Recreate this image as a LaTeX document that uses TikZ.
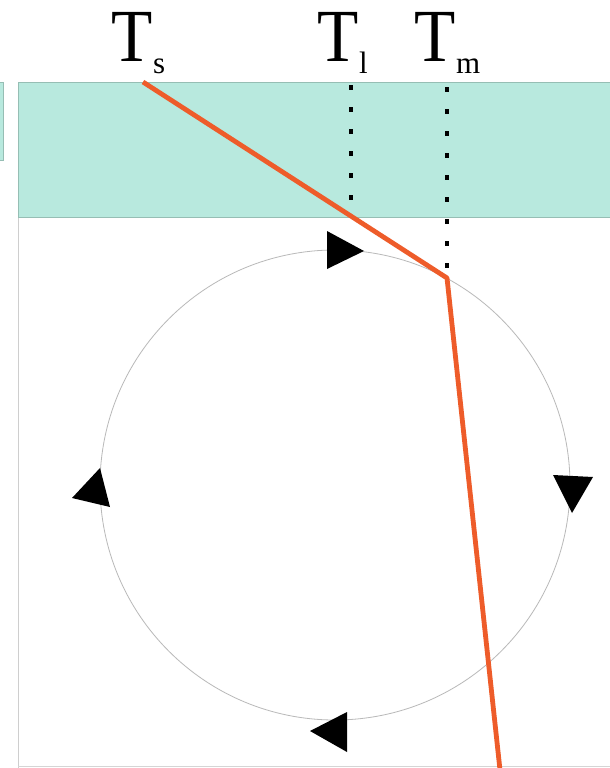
\documentclass[tikz,border=0pt]{standalone}
\usepackage{fontspec}
\setmainfont{Liberation Serif}
\definecolor{teal1}{RGB}{184,233,222}
\definecolor{tealedge}{RGB}{150,190,180}
\definecolor{orng}{RGB}{238,92,42}
\definecolor{circgray}{RGB}{185,185,185}
\newcommand{\Tlabel}[1]{\scalebox{0.9}[1]{\fontsize{75}{75}\selectfont T}\kern1pt\raisebox{-12pt}{\fontsize{31}{31}\selectfont #1}}
\begin{document}
\begin{tikzpicture}[x=1pt,y=-1pt,
  lbl/.style={anchor=base west,inner sep=0pt,outer sep=0pt},
  dotline/.style={line width=4.5pt,dash pattern=on 5pt off 17pt},
  arrowtri/.style={fill=black},
  redline/.style={orng,line width=4.8pt,line join=round}]
\useasboundingbox (0,0) rectangle (610,768);
\fill[white] (0,0) rectangle (610,768);
% left sliver panel
\fill[teal1,draw=tealedge,line width=0.8pt] (-5,82) rectangle (3,160);
% panel frame
\draw[circgray!70,line width=0.8pt] (18,82) -- (18,768);
\draw[circgray!60,line width=0.8pt] (18,766) -- (610,766);
% teal band
\fill[teal1,draw=tealedge,line width=0.8pt] (18,82) rectangle (615,217);
% circle
\draw[circgray,line width=0.8pt] (335,485) circle[radius=235];
% triangles
\fill[arrowtri] (327,231) -- (327,269) -- (364,251) -- cycle;
\fill[arrowtri] (553,475) -- (593,477) -- (572,513) -- cycle;
\fill[arrowtri] (347,712) -- (310,731) -- (347,752) -- cycle;
\fill[arrowtri] (100,468) -- (72,498) -- (110,507) -- cycle;
% dotted lines
\coordinate (l1) at (351,85); \coordinate (l2) at (351,205);
\coordinate (m1) at (447,87); \coordinate (m2) at (447,272);
\draw[dotline] (l1) -- (l2);
\draw[dotline] (m1) -- (m2);
% orange line
\coordinate (s) at (143,82); \coordinate (k) at (447,278); \coordinate (e) at (500,770);
\draw[redline] (s) -- (k) -- (e);
% labels
\node[lbl] (Ts) at (111,62) {\Tlabel{s}};
\node[lbl] (Tl) at (317,62) {\Tlabel{l}};
\node[lbl] (Tm) at (414,62) {\Tlabel{m}};
\end{tikzpicture}
\end{document}
